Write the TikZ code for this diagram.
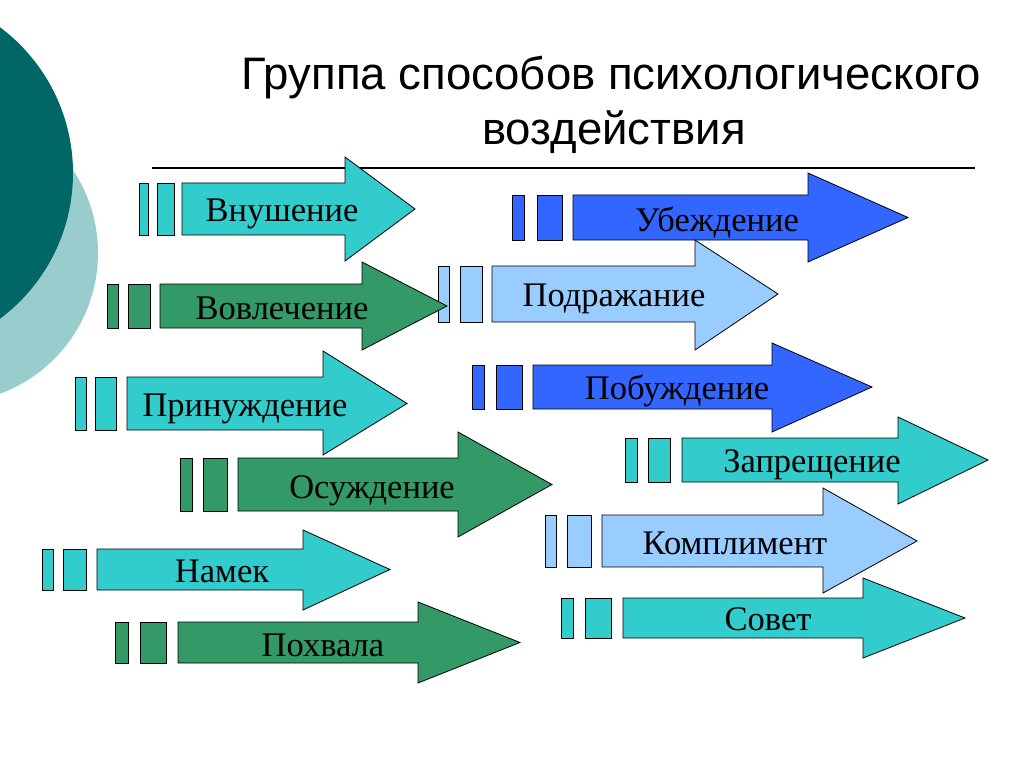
\documentclass[tikz,border=0pt]{standalone}
\usepackage{fontspec}
\setmainfont{Liberation Serif}
\newfontfamily\titlefont{Liberation Sans}
\definecolor{cyanA}{HTML}{33CCCC}
\definecolor{greenA}{HTML}{339966}
\definecolor{lblueA}{HTML}{99CCFF}
\definecolor{blueA}{HTML}{3366FF}
\definecolor{tealdark}{HTML}{006666}
\definecolor{teallight}{HTML}{99CCCC}
\tikzset{
  cy/.style={fill=cyanA,draw=black,line width=0.8pt,line join=miter},
  gr/.style={fill=greenA,draw=black,line width=0.8pt,line join=miter},
  lb/.style={fill=lblueA,draw=black,line width=0.8pt,line join=miter},
  bl/.style={fill=blueA,draw=black,line width=0.8pt,line join=miter},
  lbl/.style={font=\fontsize{34.5}{40}\selectfont,anchor=base,inner sep=0pt,text=black},
  ttl/.style={font=\titlefont\fontsize{45.5}{52}\selectfont,anchor=base,inner sep=0pt,text=black}
}
\newcommand\setY[4]{\def\yT{#1}\def\yB{#2}\def\hT{#3}\def\hB{#4}\pgfmathsetmacro\yM{(#1+#2)/2}}
\newcommand\arw[8]{%
  \filldraw[#1] (#2,\yT) rectangle (#3,\yB);
  \filldraw[#1] (#4,\yT) rectangle (#5,\yB);
  \filldraw[#1] (#6,\yT) -- (#7,\yT) -- (#7,\hT) -- (#8,\yM) -- (#7,\hB) -- (#7,\yB) -- (#6,\yB) -- cycle;
}
\begin{document}
\begin{tikzpicture}[x=1pt,y=-1pt]
\useasboundingbox (0,0) rectangle (1024,767);
\fill[white] (0,0) rectangle (1024,767);
\begin{scope}
  \clip (0,0) rectangle (1024,767);
  \fill[teallight] (-52,253) circle (150);
  \fill[tealdark] (-109,173) circle (182);
\end{scope}
% title
\node[ttl] (t1) at (611,90) {Группа способов психологического};
\node[ttl] (t2) at (614,145) {воздействия};
\draw[line width=1.3pt] (152,168) -- (975,168);
% right column
\setY{195}{240}{173}{262}\arw{bl}{512}{524}{537}{562}{573}{808}{908}
\node[lbl] (n7) at (717,232) {Убеждение};
\setY{266}{322}{240}{350}\arw{lb}{438}{449}{460}{482}{492}{695}{778}
\node[lbl] (n8) at (614,306) {Подражание};
\setY{365}{409}{343}{432}\arw{bl}{472}{484}{496}{522}{533}{772}{872}
\node[lbl] (n9) at (677,399) {Побуждение};
\setY{438}{482}{417}{504}\arw{cy}{625}{637}{648}{670}{682}{898}{988}
\node[lbl] (n10) at (812,472) {Запрещение};
\setY{515}{567}{488}{593}\arw{lb}{545}{556}{567}{591}{602}{823}{917}
\node[lbl] (n11) at (735,554) {Комплимент};
\setY{598}{638}{578}{658}\arw{cy}{561}{573}{585}{611}{623}{863}{965}
\node[lbl] (n12) at (768,630) {Совет};
% left column
\setY{183}{235}{157}{261}\arw{cy}{139}{148}{157}{174}{182}{345}{415}
\node[lbl] (n1) at (282,222) {Внушение};
\setY{284}{328}{262}{350}\arw{gr}{107}{118}{128}{150}{160}{362}{447}
\node[lbl] (n2) at (282,319) {Вовлечение};
\setY{377}{430}{351}{455}\arw{cy}{75}{86}{95}{116}{127}{323}{407}
\node[lbl] (n3) at (245,416) {Принуждение};
\setY{458}{511}{432}{537}\arw{gr}{180}{192}{203}{227}{238}{458}{552}
\node[lbl] (n4) at (372,498) {Осуждение};
\setY{549}{590}{530}{610}\arw{cy}{42}{53}{63}{86}{97}{303}{390}
\node[lbl] (n5) at (222,582) {Намек};
\setY{622}{663}{602}{683}\arw{gr}{115}{128}{140}{166}{178}{418}{520}
\node[lbl] (n6) at (323,656) {Похвала};
\end{tikzpicture}
\end{document}
